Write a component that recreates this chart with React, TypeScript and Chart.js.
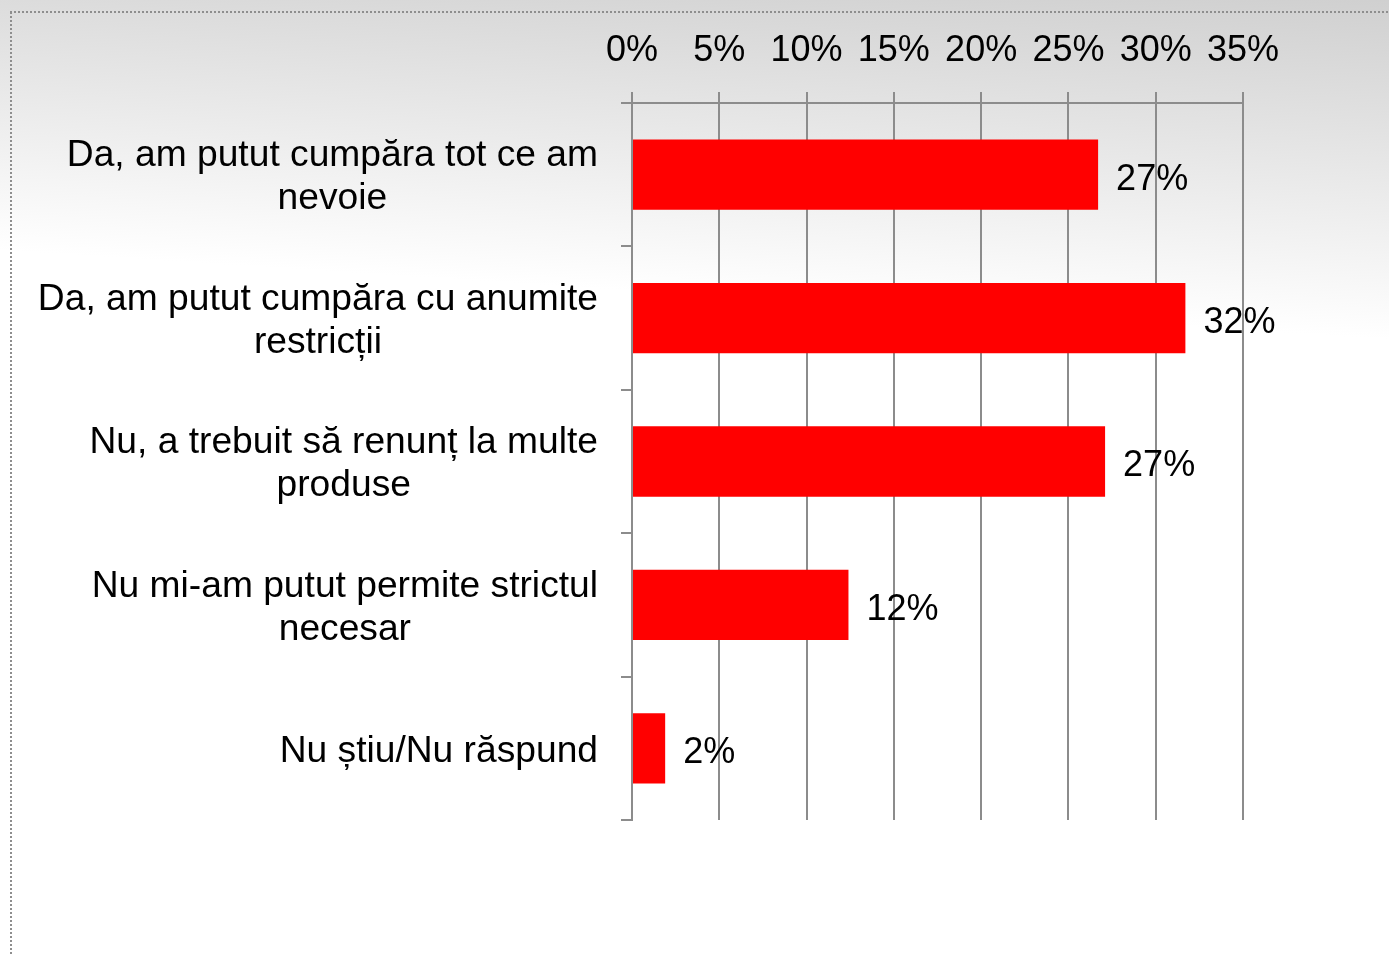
import React, { useEffect, useRef } from 'react';
import { Chart, registerables } from 'chart.js';

Chart.register(...registerables);

// ---- data ----
const categories: string[][] = [
  ['Da, am putut cumpăra tot ce am', 'nevoie'],
  ['Da, am putut cumpăra cu anumite', 'restricții'],
  ['Nu, a trebuit să renunț la multe', 'produse'],
  ['Nu mi-am putut permite strictul', 'necesar'],
  ['Nu știu/Nu răspund'],
];
const values: number[] = [26.7, 31.7, 27.1, 12.4, 1.9];
const valueLabels: string[] = ['27%', '32%', '27%', '12%', '2%'];
const axisMin = 0;
const axisMax = 35;
const axisStep = 5;

const FONT_FAMILY = "'Liberation Sans', Arial, sans-serif";
const FONT_SIZE = 36;
const CAT_FONT_SIZE = 37.2;
const GRID_COLOR = '#8c8c8c';

const backgroundPlugin = {
  id: 'bgPlugin',
  beforeDraw(chart: any) {
    const { ctx, width, height } = chart;
    ctx.save();
    const g = ctx.createLinearGradient(1389, -20, 1366, 338);
    g.addColorStop(0, '#cdcdcd');
    g.addColorStop(1, '#ffffff');
    ctx.fillStyle = g;
    ctx.fillRect(0, 0, width, height);
    // dotted frame (top and left)
    ctx.strokeStyle = '#8e8e8e';
    ctx.lineWidth = 2;
    ctx.setLineDash([2, 2]);
    ctx.beginPath();
    ctx.moveTo(10, 12);
    ctx.lineTo(width, 12);
    ctx.moveTo(11, 12);
    ctx.lineTo(11, height);
    ctx.stroke();
    ctx.restore();
  },
};

const labelsPlugin = {
  id: 'labelsPlugin',
  afterDraw(chart: any) {
    const { ctx } = chart;
    const yScale = chart.scales.y;
    const xScale = chart.scales.x;
    ctx.save();
    ctx.fillStyle = '#000000';
    ctx.textBaseline = 'middle';
    ctx.font = `${CAT_FONT_SIZE}px ${FONT_FAMILY}`;
    const lineH = 43;
    const rightEdge = xScale.left - 34;
    categories.forEach((lines, i) => {
      const yc = yScale.getPixelForValue(i) + 3;
      const widths = lines.map((l) => ctx.measureText(l).width);
      const blockW = Math.max(...widths);
      const cx = rightEdge - blockW / 2;
      ctx.textAlign = 'center';
      lines.forEach((l, j) => {
        const y = yc - ((lines.length - 1) * lineH) / 2 + j * lineH;
        ctx.fillText(l, cx, y);
      });
    });
    // value labels
    ctx.font = `${FONT_SIZE}px ${FONT_FAMILY}`;
    const meta = chart.getDatasetMeta(0);
    ctx.textAlign = 'left';
    meta.data.forEach((bar: any, i: number) => {
      ctx.fillText(valueLabels[i], bar.x + 18, bar.y + 5);
    });
    ctx.restore();
  },
};

export default function App() {
  const canvasRef = useRef<HTMLCanvasElement | null>(null);

  useEffect(() => {
    const canvas = canvasRef.current;
    if (!canvas) return;
    const chart = new Chart(canvas, {
      type: 'bar',
      data: {
        labels: categories.map((c) => c.join(' ')),
        datasets: [
          {
            data: values,
            backgroundColor: '#ff0000',
            borderWidth: 0,
            barPercentage: 0.49,
            categoryPercentage: 1,
          },
        ],
      },
      options: {
        indexAxis: 'y',
        animation: false,
        responsive: false,
        devicePixelRatio: 1,
        layout: { padding: { left: 0, top: 0, right: 146, bottom: 136 } },
        plugins: {
          legend: { display: false },
          tooltip: { enabled: false },
          title: { display: false },
        },
        scales: {
          x: {
            position: 'top',
            min: axisMin,
            max: axisMax,
            afterFit: (scale: any) => {
              scale.height = 103;
            },
            ticks: {
              stepSize: axisStep,
              callback: (v: any) => `${v}%`,
              color: '#000000',
              font: { family: FONT_FAMILY, size: FONT_SIZE, lineHeight: 1.2 },
              padding: 19,
              maxRotation: 0,
              autoSkip: false,
            },
            grid: {
              color: GRID_COLOR,
              lineWidth: 2,
              tickLength: 11,
              drawOnChartArea: true,
            },
            border: { display: true, color: GRID_COLOR, width: 2 },
          },
          y: {
            afterFit: (scale: any) => {
              scale.width = 632;
            },
            ticks: { display: false },
            grid: {
              color: GRID_COLOR,
              lineWidth: 2,
              tickLength: 11,
              drawOnChartArea: false,
              offset: true,
            },
            border: { display: true, color: GRID_COLOR, width: 2 },
          },
        },
      } as any,
      plugins: [backgroundPlugin, labelsPlugin],
    });
    return () => chart.destroy();
  }, []);

  return (
    <div style={{ position: 'absolute', left: 0, top: 0, width: 1389, height: 956 }}>
      <canvas ref={canvasRef} width={1389} height={956} style={{ display: 'block' }} />
    </div>
  );
}
